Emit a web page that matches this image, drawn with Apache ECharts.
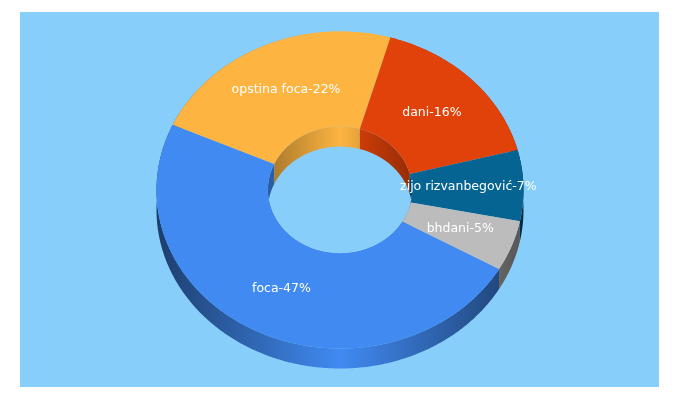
<!DOCTYPE html>
<html>
<head>
<meta charset="utf-8">
<style>html,body{margin:0;padding:0;background:#fff}#c{width:680px;height:400px}</style>
<script src="https://cdn.jsdelivr.net/npm/echarts@6/dist/echarts.min.js"></script>
</head>
<body>
<div id="c"></div>
<script>
var categories = ['foca', 'opstina foca', 'dani', 'zijo rizvanbegović', 'bhdani'];
var values = [47, 22, 16, 7, 5];
var colors = ['#418AF2', '#FDB441', '#E14209', '#056492', '#BCBCBC'];

var cx = 340, cy = 190, R = 183.5, squash = 0.8638, innerSquash = 0.879, depth = 20, inner = 0.393;
var total = values.reduce(function (a, b) { return a + b; }, 0);

var rows = [], run = 0;
values.forEach(function (v, i) { rows.push([run, run + v, i]); run += v; });

function shade(hex, f) {
  var n = parseInt(hex.slice(1), 16);
  return 'rgb(' + Math.round((n >> 16 & 255) * f) + ',' + Math.round((n >> 8 & 255) * f) + ',' + Math.round((n & 255) * f) + ')';
}
function wallFill(hex, halfWidth, edge) {
  return {
    type: 'linear', global: true, x: cx - halfWidth, y: 0, x2: cx + halfWidth, y2: 0,
    colorStops: [
      { offset: 0, color: shade(hex, edge) },
      { offset: 0.5, color: shade(hex, 1) },
      { offset: 1, color: shade(hex, edge) }
    ]
  };
}
function arc(api, r, a, b, dy) {
  var pts = [], n = Math.max(8, Math.ceil((b - a) * 6));
  var k = r === 1 ? squash : innerSquash;
  for (var i = 0; i <= n; i++) {
    var p = api.coord([r, a + (b - a) * i / n]);
    pts.push([p[0], cy + (p[1] - cy) * k + dy]);
  }
  return pts;
}
function band(api, r1, r2, dy1, dy2) {
  var a = api.value(0), b = api.value(1);
  return arc(api, r1, a, b, dy1).concat(arc(api, r2, a, b, dy2).reverse());
}
function layer(render) {
  return {
    type: 'custom', coordinateSystem: 'polar', silent: true, animation: false,
    clip: false, data: rows, renderItem: render
  };
}

var option = {
  animation: false,
  backgroundColor: '#ffffff',
  tooltip: { show: false },
  graphic: [{
    type: 'rect', z: -10, silent: true,
    shape: { x: 20, y: 12, width: 639, height: 375 },
    style: { fill: '#87CEFA' }
  }],
  polar: { center: [cx, cy], radius: R },
  angleAxis: { type: 'value', min: 0, max: total, startAngle: -29.9, clockwise: true, show: false },
  radiusAxis: { type: 'value', min: 0, max: 1, show: false },
  series: [
    layer(function (p, api) {
      return { type: 'polygon', shape: { points: band(api, 1, 1, 0, depth) },
        style: { fill: wallFill(colors[api.value(2)], R, 0.45) } };
    }),
    layer(function (p, api) {
      return { type: 'polygon', shape: { points: band(api, inner, inner, 0, depth) },
        style: { fill: wallFill(colors[api.value(2)], R * inner, 0.66) } };
    }),
    layer(function (p, api) {
      return { type: 'polygon', shape: { points: band(api, 1, inner, 0, 0) },
        style: { fill: colors[api.value(2)] } };
    }),
    layer(function (p, api) {
      var i = api.value(2);
      var c = api.coord([0.7, (api.value(0) + api.value(1)) / 2]);
      return { type: 'text', z2: 10,
        style: {
          x: c[0], y: cy + (c[1] - cy) * squash,
          text: categories[i] + '-' + values[i] + '%',
          fill: '#ffffff', font: '12.5px "DejaVu Sans", Verdana, sans-serif',
          textAlign: 'center', textVerticalAlign: 'middle', verticalAlign: 'middle'
        } };
    })
  ]
};
var chart = echarts.init(document.getElementById('c'), null, { renderer: 'canvas' });
chart.setOption(option);
</script>
</body>
</html>
